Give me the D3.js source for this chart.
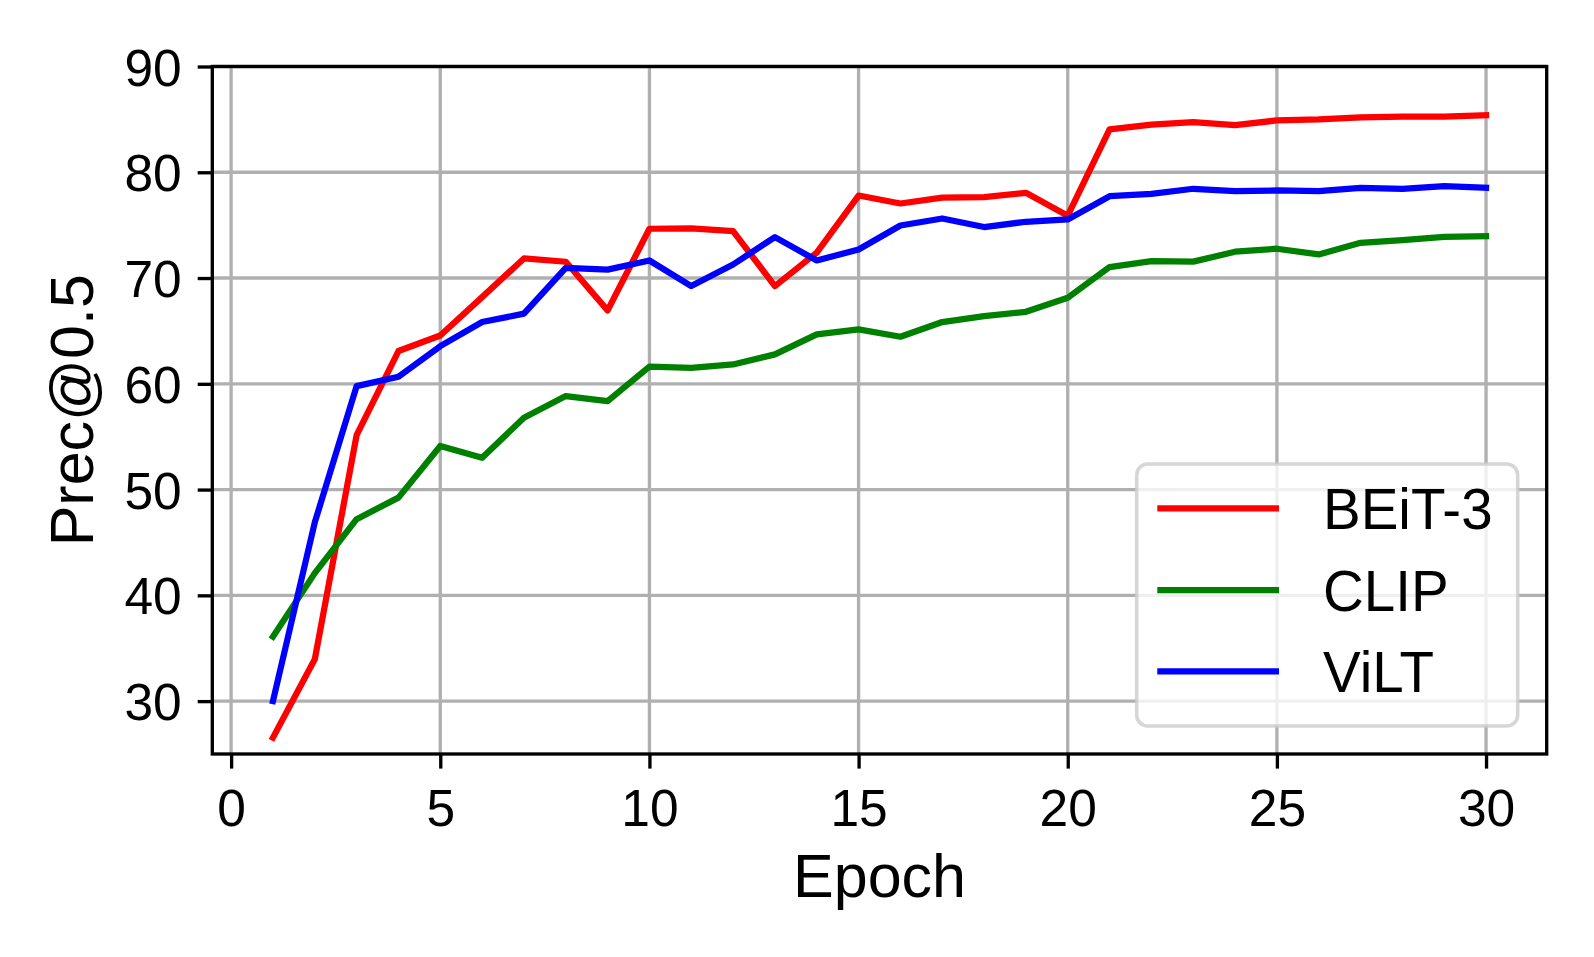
<!DOCTYPE html>
<html>
<head>
<meta charset="utf-8">
<script src="https://cdn.jsdelivr.net/npm/d3@7"></script>
<style>
  html, body { margin: 0; padding: 0; background: #ffffff; }
  svg { display: block; font-family: "Liberation Sans", Arial, sans-serif; }
</style>
</head>
<body>
<svg id="chart" width="1594" height="957"></svg>
<script>
// ---- data ----
const epochs = d3.range(1, 31);
const beit3 = [26.55, 33.95, 55.15, 63.1, 64.57, 68.2, 71.85, 71.54, 66.94, 74.66,
               74.7, 74.43, 69.24, 72.4, 77.8, 77.05, 77.6, 77.65, 78.06, 75.9,
               84.05, 84.5, 84.74, 84.45, 84.9, 85.0, 85.2, 85.25, 85.25, 85.4];
const clip  = [36.1, 42.1, 47.2, 49.24, 54.12, 53.0, 56.8, 58.84, 58.37, 61.63,
               61.5, 61.83, 62.78, 64.67, 65.14, 64.45, 65.84, 66.4, 66.81, 68.14,
               71.04, 71.6, 71.55, 72.49, 72.77, 72.23, 73.33, 73.58, 73.9, 73.96];
const vilt  = [30.0, 46.9, 59.78, 60.67, 63.56, 65.84, 66.63, 70.97, 70.8, 71.66,
               69.24, 71.28, 73.87, 71.66, 72.7, 74.97, 75.63, 74.82, 75.32, 75.54,
               77.74, 77.96, 78.44, 78.22, 78.28, 78.22, 78.53, 78.44, 78.69, 78.53];
const seriesNames = ["BEiT-3", "CLIP", "ViLT"];
const seriesColors = ["#ff0000", "#008000", "#0000ff"];
const xTicks = [0, 5, 10, 15, 20, 25, 30];
const yTicks = [30, 40, 50, 60, 70, 80, 90];
const xLabel = "Epoch";
const yLabel = "Prec@0.5";

// ---- layout ----
const L = 212.3, R = 1546.7, T = 66.5, B = 754;
const svg = d3.select("#chart");
const x = d3.scaleLinear().domain([-0.45, 31.45]).range([L, R]);
const y = d3.scaleLinear().domain([25, 90]).range([B, T]);

const tickFont = 51.5, labelFont = 61, legendFont = 56.5;
const gridW = 3.33, spineW = 3.33, lineW = 6.25, tickLen = 14.6;

// grid
const grid = svg.append("g");
grid.selectAll(".gx").data(xTicks).enter().append("line")
  .attr("x1", d => x(d)).attr("x2", d => x(d)).attr("y1", T).attr("y2", B)
  .attr("stroke", "#b0b0b0").attr("stroke-width", gridW);
grid.selectAll(".gy").data(yTicks).enter().append("line")
  .attr("x1", L).attr("x2", R).attr("y1", d => y(d)).attr("y2", d => y(d))
  .attr("stroke", "#b0b0b0").attr("stroke-width", gridW);

// lines
const allSeries = [beit3, clip, vilt];
const lineGen = d3.line().x((d, i) => x(epochs[i])).y(d => y(d));
const clipId = "plotclip";
svg.append("clipPath").attr("id", clipId).append("rect")
  .attr("x", L).attr("y", T).attr("width", R - L).attr("height", B - T);
svg.append("g").attr("clip-path", `url(#${clipId})`)
  .selectAll("path").data(allSeries).enter().append("path")
  .attr("d", d => lineGen(d))
  .attr("fill", "none")
  .attr("stroke", (d, i) => seriesColors[i])
  .attr("stroke-width", lineW)
  .attr("stroke-linejoin", "round")
  .attr("stroke-linecap", "square");

// axes via d3
const xAxis = d3.axisBottom(x).tickValues(xTicks).tickSize(tickLen).tickPadding(12).tickFormat(d3.format("d"));
const yAxis = d3.axisLeft(y).tickValues(yTicks).tickSize(tickLen).tickPadding(14).tickFormat(d3.format("d"));
const gx = svg.append("g").attr("transform", `translate(0,${B})`).call(xAxis);
const gy = svg.append("g").attr("transform", `translate(${L},0)`).call(yAxis);
[gx, gy].forEach(g => {
  g.select(".domain").remove();
  g.selectAll(".tick line").attr("stroke", "#000").attr("stroke-width", spineW);
  g.selectAll(".tick text").attr("fill", "#000").attr("font-size", tickFont)
    .attr("font-family", "'Liberation Sans', Arial, sans-serif");
});
gx.selectAll(".tick text").attr("dy", null).attr("y", 71.5);
gy.selectAll(".tick text").attr("dy", null).attr("y", 18.5).attr("x", -(tickLen + 16));

// spines
svg.append("rect").attr("x", L).attr("y", T).attr("width", R - L).attr("height", B - T)
  .attr("fill", "none").attr("stroke", "#000").attr("stroke-width", spineW);

// axis labels
svg.append("text").attr("x", (L + R) / 2).attr("y", 897).attr("text-anchor", "middle")
  .attr("font-size", labelFont).attr("fill", "#000").text(xLabel);
svg.append("text").attr("transform", `translate(93,${(T + B) / 2}) rotate(-90)`)
  .attr("text-anchor", "middle").attr("font-size", labelFont).attr("fill", "#000").text(yLabel);

// legend
const lg = svg.append("g");
lg.append("rect").attr("x", 1136.7).attr("y", 464).attr("width", 381).attr("height", 262)
  .attr("rx", 11).attr("ry", 11)
  .attr("fill", "#ffffff").attr("fill-opacity", 0.8)
  .attr("stroke", "#cccccc").attr("stroke-opacity", 0.8).attr("stroke-width", 3.6);
const legendY = [508.3, 590, 671.3];
seriesNames.forEach((name, i) => {
  lg.append("line").attr("x1", 1160.4).attr("x2", 1275.9)
    .attr("y1", legendY[i]).attr("y2", legendY[i])
    .attr("stroke", seriesColors[i]).attr("stroke-width", lineW).attr("stroke-linecap", "square");
  lg.append("text").attr("x", 1323).attr("y", legendY[i] + 21)
    .attr("font-size", legendFont).attr("fill", "#000").text(name);
});
</script>
</body>
</html>
